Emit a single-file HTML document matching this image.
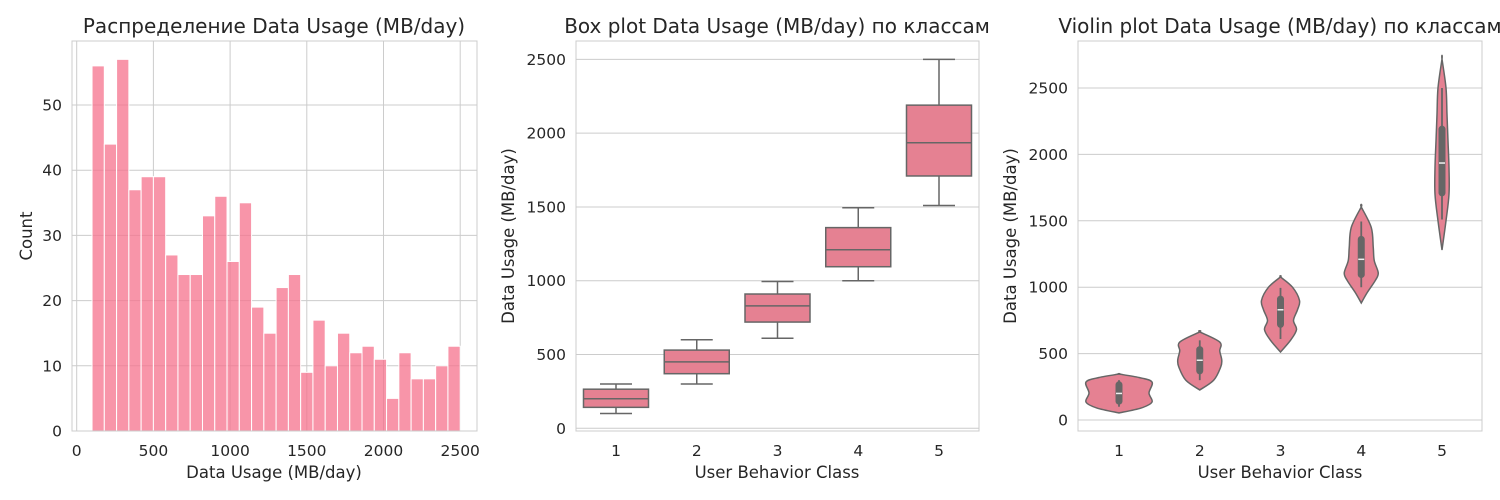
<!DOCTYPE html>
<html><head><meta charset="utf-8"><style>
body{margin:0;background:#fff;}
svg{display:block;font-family:"DejaVu Sans","Liberation Sans",sans-serif;}
</style></head><body>
<svg id="fig" width="1500" height="500" viewBox="0 0 1500 500"></svg>
<script>
// Histogram data
const histBinStart = 100;
const histBinWidth = 80;
const histCounts = [56,44,57,37,39,39,27,24,24,33,36,26,35,19,15,22,24,9,17,10,15,12,13,11,5,12,8,8,10,13];
const histXTicks = [0,500,1000,1500,2000,2500];
const histYTicks = [0,10,20,30,40,50];
// Box plot data
const classes = ['1','2','3','4','5'];
const boxQ1 = [142,370,720,1095,1710];
const boxMed = [200,450,830,1210,1935];
const boxQ3 = [265,530,910,1360,2190];
const boxLo = [100,300,610,1000,1510];
const boxHi = [300,600,995,1495,2500];
const usageTicks = [0,500,1000,1500,2000,2500];
// Violin density data (value levels and relative half-widths)
const violinVals = [
 [53,90,135,203,286,320,346],
 [226,300,400,452,520,587,663],
 [512,600,680,750,830,900,1000,1077],
 [881,960,1050,1107,1200,1300,1450,1604],
 [1280,1500,1700,1900,2100,2300,2500,2718]
];
const violinWidths = [
 [0,22,33,30,33,20,0],
 [0,14,21,22,20,20,0],
 [0,10,16,13,17,19,12,0],
 [0,6,14,17,13,12,10,0],
 [0,4,7,7,6,5,4,0]
];

const NS='http://www.w3.org/2000/svg';
const svg=document.getElementById('fig');
function mk(tag,attrs,parent,text){const e=document.createElementNS(NS,tag);for(const k in attrs)e.setAttribute(k,attrs[k]);if(text!==undefined)e.textContent=text;(parent||svg).appendChild(e);return e;}
const GRID='#cccccc', TXT='#262626', LINE='#666666';

function frame(name){
  const g=mk('g',{});
  
  
  return g;
}
function border(g,L,R,T,B){
  const r=mk('rect',{x:L,y:T,width:R-L,height:B-T,fill:'none',stroke:GRID,'stroke-width':1},g);
  
  
}
function txt(g,x,y,s,size,anchor,name,rot){
  const a={x:x,y:y,'font-size':size,fill:TXT,'text-anchor':anchor||'middle'};
  if(rot)a.transform='rotate(-90 '+x+' '+y+')';
  const t=mk('text',a,g,s);
  
  
  return t;
}
const TICK=15.5, TITLE=20, AXT=16.5;

// ---------- Histogram ----------
(function(){
  const L=72,R=477,T=41,B=431;
  const g=frame('histogram-panel');
  const x=v=>76.7+v*0.1534, y=v=>B-v*6.52;
  histYTicks.forEach(v=>{mk('line',{x1:L,x2:R,y1:y(v),y2:y(v),stroke:GRID},g);txt(g,L-10,y(v)+5.5,String(v),TICK,'end','y-tick-label');});
  histXTicks.forEach(v=>{mk('line',{x1:x(v),x2:x(v),y1:T,y2:B,stroke:GRID},g);txt(g,x(v),456,String(v),TICK,'middle','x-tick-label');});
  histCounts.forEach((c,i)=>{
    const x0=x(histBinStart+i*histBinWidth), x1=x(histBinStart+(i+1)*histBinWidth);
    const r=mk('rect',{x:x0,y:y(c),width:x1-x0,height:y(0)-y(c),fill:'#f5728c','fill-opacity':0.75,stroke:'#fff','stroke-width':1},g);
    
    
  });
  border(g,L,R,T,B);
  txt(g,274,33,'Распределение Data Usage (MB/day)',TITLE,'middle','chart-title');
  txt(g,274,478,'Data Usage (MB/day)',AXT,'middle','x-axis-title');
  txt(g,32,236,'Count',AXT,'middle','y-axis-title',true);
})();

// ---------- Box plot ----------
(function(){
  const L=576,R=979,T=41,B=431;
  const g=frame('boxplot-panel');
  const y=v=>428.3-v*0.14756, cx=i=>616+i*80.75, hw=32.5;
  usageTicks.forEach(v=>{mk('line',{x1:L,x2:R,y1:y(v),y2:y(v),stroke:GRID},g);txt(g,L-10,y(v)+5.5,String(v),TICK,'end','y-tick-label');});
  classes.forEach((c,i)=>{
    txt(g,cx(i),456,c,TICK,'middle','x-tick-label');
    const bg=mk('g',{},g);
    
    
    const s={stroke:LINE,'stroke-width':1.5};
    mk('line',Object.assign({x1:cx(i),x2:cx(i),y1:y(boxQ3[i]),y2:y(boxHi[i])},s),bg);
    mk('line',Object.assign({x1:cx(i),x2:cx(i),y1:y(boxQ1[i]),y2:y(boxLo[i])},s),bg);
    mk('line',Object.assign({x1:cx(i)-16,x2:cx(i)+16,y1:y(boxHi[i]),y2:y(boxHi[i])},s),bg);
    mk('line',Object.assign({x1:cx(i)-16,x2:cx(i)+16,y1:y(boxLo[i]),y2:y(boxLo[i])},s),bg);
    mk('rect',Object.assign({x:cx(i)-hw,y:y(boxQ3[i]),width:2*hw,height:y(boxQ1[i])-y(boxQ3[i]),fill:'#e58192'},s),bg);
    mk('line',Object.assign({x1:cx(i)-hw,x2:cx(i)+hw,y1:y(boxMed[i]),y2:y(boxMed[i])},s),bg);
  });
  border(g,L,R,T,B);
  txt(g,777,33,'Box plot Data Usage (MB/day) по классам',TITLE,'middle','chart-title');
  txt(g,777,478,'User Behavior Class',AXT,'middle','x-axis-title');
  txt(g,514,236,'Data Usage (MB/day)',AXT,'middle','y-axis-title',true);
})();

// ---------- Violin ----------
(function(){
  const L=1078,R=1482,T=41,B=431;
  const g=frame('violin-panel');
  const y=v=>420-v*0.1328, cx=i=>1119+i*80.75;
  usageTicks.forEach(v=>{mk('line',{x1:L,x2:R,y1:y(v),y2:y(v),stroke:GRID},g);txt(g,L-10,y(v)+5.5,String(v),TICK,'end','y-tick-label');});
  classes.forEach((c,i)=>{
    txt(g,cx(i),456,c,TICK,'middle','x-tick-label');
    const vg=mk('g',{},g);
    
    
    const vals=violinVals[i], ws=violinWidths[i];
    const right=vals.map((v,k)=>[cx(i)+ws[k],y(v)]);
    const left=vals.map((v,k)=>[cx(i)-ws[k],y(v)]).reverse();
    const pts=right.concat(left);
    let d='M'+pts[0][0]+','+pts[0][1];
    for(let k=0;k<pts.length-1;k++){
      const p0=pts[Math.max(k-1,0)],p1=pts[k],p2=pts[k+1],p3=pts[Math.min(k+2,pts.length-1)];
      d+=' C'+(p1[0]+(p2[0]-p0[0])/6)+','+(p1[1]+(p2[1]-p0[1])/6)+' '+(p2[0]-(p3[0]-p1[0])/6)+','+(p2[1]-(p3[1]-p1[1])/6)+' '+p2[0]+','+p2[1];
    }
    mk('path',{d:d+'Z',fill:'#e58192',stroke:LINE,'stroke-width':1.5},vg);
    mk('line',{x1:cx(i),x2:cx(i),y1:y(boxLo[i]),y2:y(boxHi[i]),stroke:LINE,'stroke-width':1.8},vg);
    mk('line',{x1:cx(i),x2:cx(i),y1:y(boxQ1[i]),y2:y(boxQ3[i]),stroke:LINE,'stroke-width':7,'stroke-linecap':'round'},vg);
    mk('line',{x1:cx(i)-3,x2:cx(i)+3,y1:y(boxMed[i]),y2:y(boxMed[i]),stroke:'#f0f0f0','stroke-width':1.5},vg);
  });
  border(g,L,R,T,B);
  txt(g,1280,33,'Violin plot Data Usage (MB/day) по классам',TITLE,'middle','chart-title');
  txt(g,1280,478,'User Behavior Class',AXT,'middle','x-axis-title');
  txt(g,1016,236,'Data Usage (MB/day)',AXT,'middle','y-axis-title',true);
})();
</script>
</body></html>
